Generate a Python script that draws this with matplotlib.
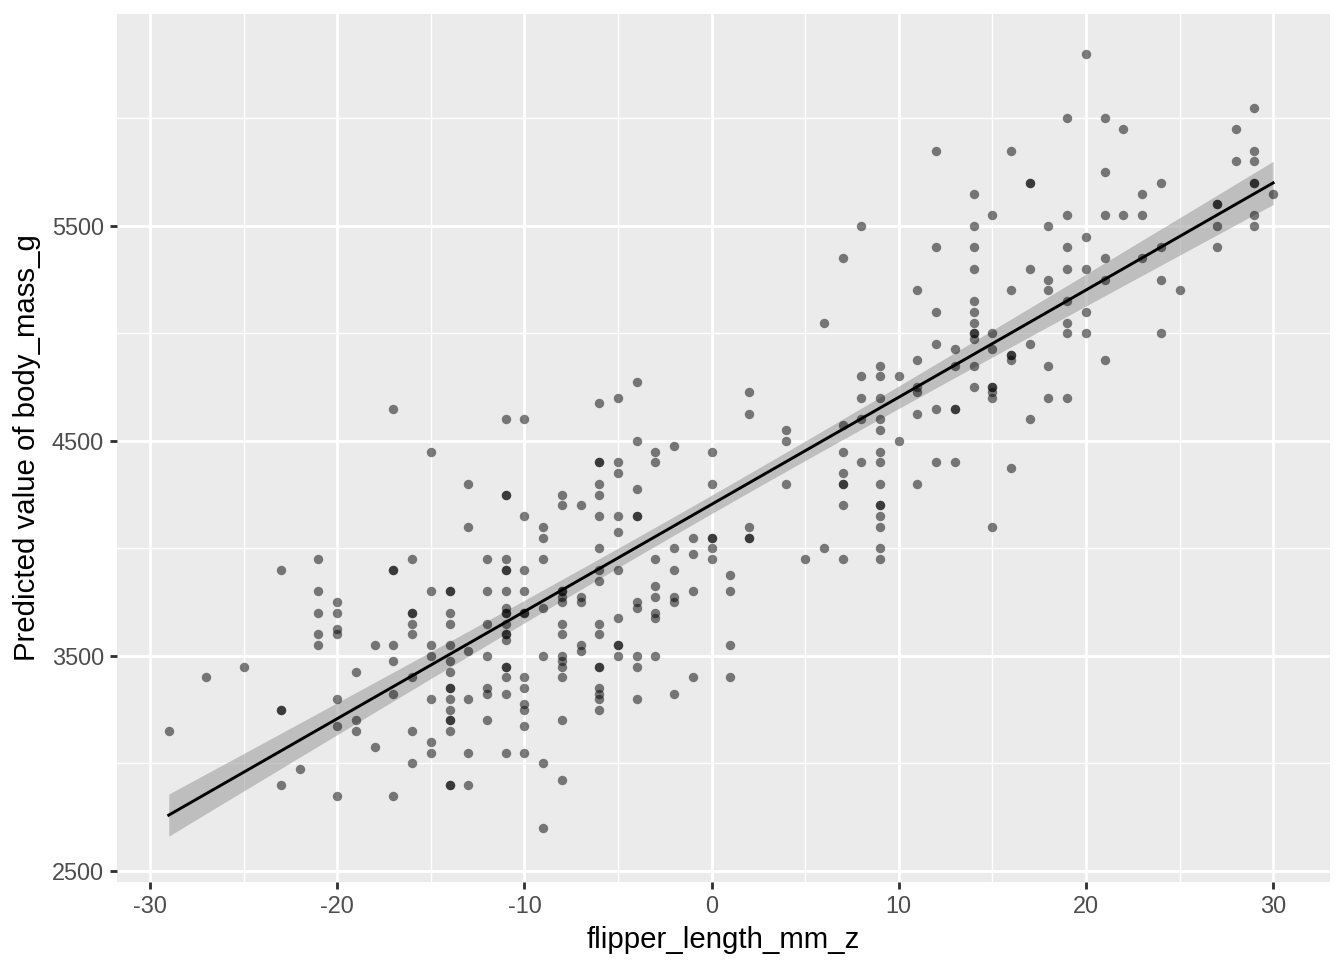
import numpy as np
import matplotlib
matplotlib.use('Agg')
import matplotlib.pyplot as plt
from matplotlib.ticker import MultipleLocator

plt.rcParams['font.family'] = ['Liberation Sans', 'DejaVu Sans']
plt.rcParams['axes.unicode_minus'] = False

# centred flipper length (mm) and body mass (g)
flipper_z = [
    -29,
    -27,
    -25,
    -23, -23, -23, -23,
    -22,
    -21, -21, -21, -21, -21,
    -20, -20, -20, -20, -20, -20, -20,
    -19, -19, -19,
    -18, -18,
    -17, -17, -17, -17, -17, -17, -17,
    -16, -16, -16, -16, -16, -16, -16, -16,
    -15, -15, -15, -15, -15, -15, -15,
    -14, -14, -14, -14, -14, -14, -14, -14, -14, -14, -14, -14, -14, -14, -14, -14,
    -13, -13, -13, -13, -13, -13,
    -12, -12, -12, -12, -12, -12, -12,
    -11, -11, -11, -11, -11, -11, -11, -11, -11, -11, -11, -11, -11, -11, -11, -11, -11, -11, -11,
    -10, -10, -10, -10, -10, -10, -10, -10, -10, -10, -10, -10,
    -9, -9, -9, -9, -9, -9, -9,
    -8, -8, -8, -8, -8, -8, -8, -8, -8, -8, -8, -8, -8, -8,
    -7, -7, -7, -7, -7,
    -6, -6, -6, -6, -6, -6, -6, -6, -6, -6, -6, -6, -6, -6, -6, -6, -6,
    -5, -5, -5, -5, -5, -5, -5, -5, -5, -5,
    -4, -4, -4, -4, -4, -4, -4, -4, -4, -4,
    -3, -3, -3, -3, -3, -3, -3, -3,
    -2, -2, -2, -2, -2, -2,
    -1, -1, -1, -1,
    0, 0, 0, 0, 0, 0,
    1, 1, 1, 1,
    2, 2, 2, 2, 2,
    4, 4, 4,
    5,
    6, 6,
    7, 7, 7, 7, 7, 7, 7, 7,
    8, 8, 8, 8, 8,
    9, 9, 9, 9, 9, 9, 9, 9, 9, 9, 9, 9, 9, 9,
    10, 10,
    11, 11, 11, 11, 11, 11,
    12, 12, 12, 12, 12, 12,
    13, 13, 13, 13, 13,
    14, 14, 14, 14, 14, 14, 14, 14, 14, 14, 14, 14,
    15, 15, 15, 15, 15, 15, 15, 15,
    16, 16, 16, 16, 16, 16,
    17, 17, 17, 17, 17,
    18, 18, 18, 18, 18,
    19, 19, 19, 19, 19, 19, 19, 19,
    20, 20, 20, 20, 20,
    21, 21, 21, 21, 21, 21,
    22, 22,
    23, 23, 23,
    24, 24, 24, 24,
    25,
    27, 27, 27, 27,
    28, 28,
    29, 29, 29, 29, 29, 29, 29,
    30,
]

body_mass = [
    3150,
    3400,
    3450,
    3900, 3250, 3250, 2900,
    2975,
    3950, 3800, 3700, 3600, 3550,
    3750, 3700, 3625, 3600, 3300, 3175, 2850,
    3425, 3200, 3150,
    3550, 3075,
    4650, 3900, 3900, 3550, 3475, 3325, 2850,
    3950, 3700, 3700, 3650, 3600, 3400, 3150, 3000,
    4450, 3800, 3550, 3500, 3300, 3100, 3050,
    3800, 3800, 3700, 3650, 3550, 3475, 3425, 3350, 3350, 3300, 3250, 3200, 3200, 3150, 2900, 2900,
    4300, 4100, 3525, 3300, 3050, 2900,
    3950, 3800, 3650, 3500, 3350, 3325, 3200,
    4600, 4250, 4250, 3950, 3900, 3900, 3800, 3725, 3700, 3700, 3650, 3600, 3600, 3575, 3450, 3450, 3400, 3325, 3050,
    4600, 4150, 3900, 3800, 3700, 3700, 3400, 3350, 3275, 3250, 3175, 3050,
    4100, 4050, 3950, 3725, 3500, 3000, 2700,
    4250, 4200, 3800, 3800, 3775, 3750, 3650, 3600, 3500, 3475, 3450, 3400, 3200, 2925,
    4200, 3775, 3750, 3550, 3525,
    4675, 4400, 4400, 4300, 4250, 4150, 4000, 3900, 3850, 3650, 3600, 3450, 3450, 3350, 3325, 3300, 3250,
    4700, 4400, 4350, 4150, 4075, 3900, 3675, 3550, 3550, 3500,
    4775, 4500, 4275, 4150, 4150, 3750, 3725, 3500, 3450, 3300,
    4450, 4400, 3950, 3825, 3775, 3700, 3675, 3500,
    4475, 4000, 3900, 3775, 3750, 3325,
    4050, 3975, 3800, 3400,
    4450, 4300, 4050, 4050, 4000, 3950,
    3875, 3800, 3550, 3400,
    4725, 4625, 4100, 4050, 4050,
    4550, 4500, 4300,
    3950,
    5050, 4000,
    5350, 4575, 4450, 4350, 4300, 4300, 4200, 3950,
    5500, 4800, 4700, 4600, 4400,
    4850, 4800, 4700, 4600, 4550, 4450, 4400, 4300, 4200, 4200, 4150, 4100, 4000, 3950,
    4800, 4500,
    5200, 4875, 4750, 4725, 4625, 4300,
    5850, 5400, 5100, 4950, 4650, 4400,
    4925, 4850, 4650, 4650, 4400,
    5650, 5500, 5400, 5300, 5150, 5100, 5050, 5000, 5000, 4975, 4850, 4750,
    5550, 5000, 4925, 4750, 4750, 4725, 4700, 4100,
    5850, 5200, 4900, 4900, 4875, 4375,
    5700, 5700, 5300, 4950, 4600,
    5500, 5250, 5200, 4850, 4700,
    6000, 5550, 5400, 5300, 5150, 5050, 5000, 4700,
    6300, 5450, 5300, 5100, 5000,
    6000, 5750, 5550, 5350, 5250, 4875,
    5950, 5550,
    5650, 5550, 5350,
    5700, 5400, 5250, 5000,
    5200,
    5600, 5600, 5500, 5400,
    5950, 5800,
    6050, 5850, 5800, 5700, 5700, 5550, 5500,
    5650,
]

x_ticks = [-30, -20, -10, 0, 10, 20, 30]
y_ticks = [2500, 3500, 4500, 5500]

x = np.array(flipper_z, dtype=float)
y = np.array(body_mass, dtype=float)

# linear fit with 95% confidence band
slope, intercept = np.polyfit(x, y, 1)
n = len(x)
resid = y - (intercept + slope * x)
sigma = np.sqrt(np.sum(resid ** 2) / (n - 2))
sxx = np.sum((x - x.mean()) ** 2)
xs = np.linspace(x.min(), x.max(), 200)
fit = intercept + slope * xs
se = sigma * np.sqrt(1.0 / n + (xs - x.mean()) ** 2 / sxx)
t_crit = 1.967

fig = plt.figure(figsize=(7, 5), dpi=192)
ax = fig.add_axes([0.0871, 0.08125, 0.9025, 0.9042])
ax.set_facecolor('#EBEBEB')
for s in ax.spines.values():
    s.set_visible(False)

ax.fill_between(xs, fit - t_crit * se, fit + t_crit * se, color='#999999',
                alpha=0.55, linewidth=0, zorder=2)
ax.scatter(x, y, s=12.5, color='black', alpha=0.5, linewidths=0, zorder=3)
ax.plot(xs, fit, color='black', linewidth=1.1, zorder=4)

ax.set_xlim(-31.76, 33.04)
ax.set_ylim(2449, 6485)
ax.set_xticks(x_ticks)
ax.set_yticks(y_ticks)
ax.xaxis.set_minor_locator(MultipleLocator(5))
ax.yaxis.set_minor_locator(MultipleLocator(500))
ax.grid(which='major', color='white', linewidth=1.07, zorder=0)
ax.grid(which='minor', color='white', linewidth=0.53, zorder=0)
ax.set_axisbelow(True)
ax.tick_params(which='major', length=2.75, width=1.07, color='#333333',
               labelsize=8.8, labelcolor='#4D4D4D', pad=2.2)
ax.tick_params(which='minor', length=0)

ax.set_xlabel('flipper_length_mm_z', fontsize=11, labelpad=3)
ax.set_ylabel('Predicted value of body_mass_g', fontsize=11, labelpad=4)

fig.savefig('out.png', dpi=192)
